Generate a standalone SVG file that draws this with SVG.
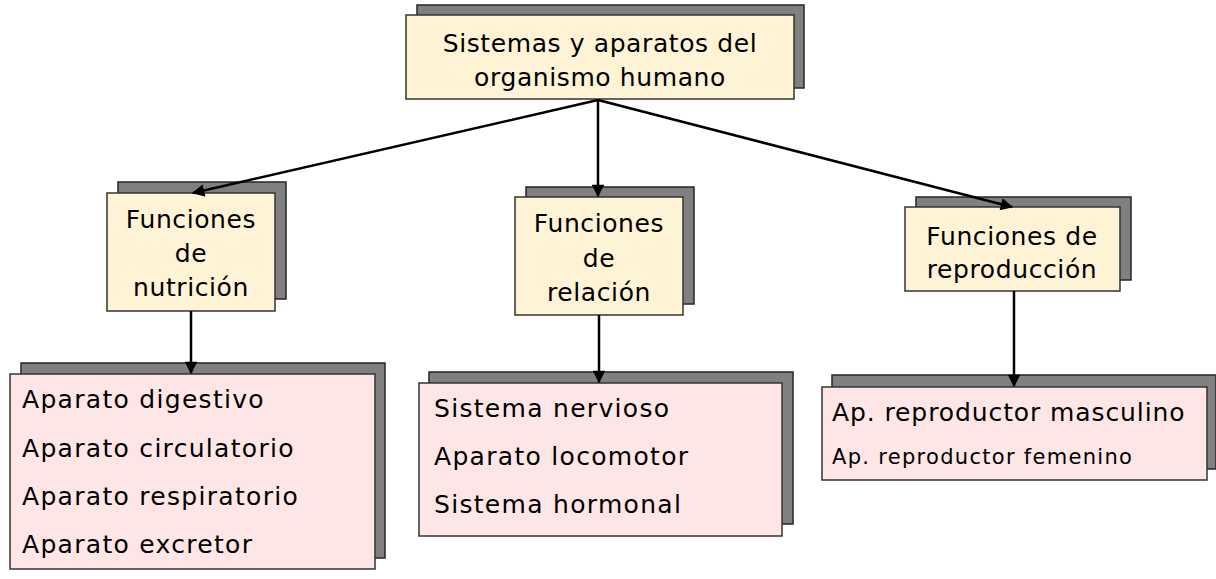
<svg xmlns="http://www.w3.org/2000/svg" width="1216" height="579" viewBox="0 0 1216 579">
<defs>
<style>
.sh{fill:#808080;stroke:#262626;stroke-width:1.5}
.fy{fill:#FFF3D5;stroke:#333333;stroke-width:1.5}
.fp{fill:#FFE6E6;stroke:#333333;stroke-width:1.5}
text{font-family:"Comic Sans MS","DejaVu Sans",sans-serif;fill:#000}
.c{text-anchor:middle;font-size:25px;letter-spacing:0.6px}
.l{font-size:25px;letter-spacing:1.3px}
.m{font-size:25px;letter-spacing:0.9px}
.s{font-size:21px;letter-spacing:1.3px}
.con{stroke:#000;stroke-width:2.5;fill:none;marker-end:url(#ah)}
</style>
<marker id="ah" viewBox="0 0 10 10" refX="9" refY="5" markerWidth="6" markerHeight="5" orient="auto" markerUnits="strokeWidth">
<path d="M0,0 L10,5 L0,10 z" fill="#000"/>
</marker>
</defs>
<rect width="1216" height="579" fill="#fff"/>
<g id="root">
<rect class="sh" x="417" y="5" width="387" height="83"/>
<rect class="fy" x="406" y="15" width="388" height="84"/>
<text class="c" x="600" y="52">Sistemas y aparatos del</text>
<text class="c" x="600" y="86">organismo humano</text>
</g>
<g id="nutricion">
<rect class="sh" x="118" y="182" width="168" height="117"/>
<rect class="fy" x="107" y="193" width="168" height="118"/>
<text class="c" x="191" y="228">Funciones</text>
<text class="c" x="191" y="262">de</text>
<text class="c" x="191" y="296">nutrición</text>
</g>
<g id="relacion">
<rect class="sh" x="526" y="187" width="168" height="117"/>
<rect class="fy" x="515" y="197" width="168" height="118"/>
<text class="c" x="599" y="232">Funciones</text>
<text class="c" x="599" y="267">de</text>
<text class="c" x="599" y="301">relación</text>
</g>
<g id="reproduccion">
<rect class="sh" x="916" y="197" width="215" height="83"/>
<rect class="fy" x="905" y="207" width="215" height="84"/>
<text class="c" x="1012" y="245">Funciones de</text>
<text class="c" x="1012" y="278">reproducción</text>
</g>
<g id="list-nutricion">
<rect class="sh" x="21" y="363" width="364" height="195"/>
<rect class="fp" x="10" y="374" width="365" height="195"/>
<text class="l" x="22" y="408">Aparato digestivo</text>
<text class="l" x="22" y="457">Aparato circulatorio</text>
<text class="l" x="22" y="505">Aparato respiratorio</text>
<text class="l" x="22" y="553">Aparato excretor</text>
</g>
<g id="list-relacion">
<rect class="sh" x="429" y="372" width="364" height="152"/>
<rect class="fp" x="419" y="383" width="363" height="153"/>
<text class="l" x="434" y="417">Sistema nervioso</text>
<text class="l" x="434" y="465">Aparato locomotor</text>
<text class="l" x="434" y="513">Sistema hormonal</text>
</g>
<g id="list-reproduccion">
<rect class="sh" x="832" y="375" width="384" height="94"/>
<rect class="fp" x="822" y="387" width="385" height="93"/>
<text class="m" x="832" y="421">Ap. reproductor masculino</text>
<text class="s" x="832" y="464">Ap. reproductor femenino</text>
</g>
<g id="connectors">
<line class="con" x1="598" y1="100" x2="193" y2="193"/>
<line class="con" x1="598" y1="100" x2="598" y2="196"/>
<line class="con" x1="598" y1="100" x2="1012" y2="207"/>
<line class="con" x1="191" y1="311" x2="191" y2="373"/>
<line class="con" x1="599" y1="315" x2="599" y2="382"/>
<line class="con" x1="1014" y1="291" x2="1014" y2="386"/>
</g>
</svg>
